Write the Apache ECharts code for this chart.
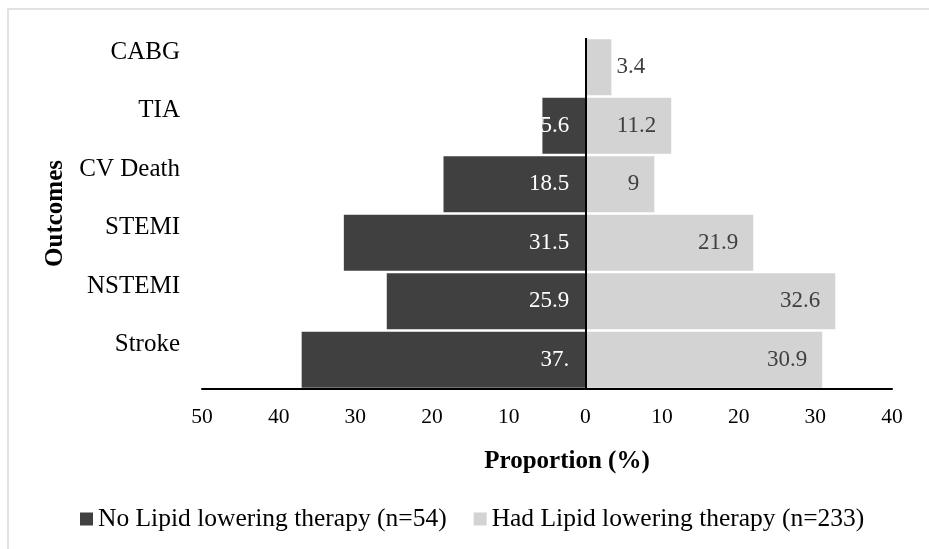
<!DOCTYPE html>
<html>
<head>
<meta charset="utf-8">
<script src="https://cdn.jsdelivr.net/npm/echarts@6/dist/echarts.min.js"></script>
<style>
  html, body { margin: 0; padding: 0; background: #fff; }
  #chart { width: 929px; height: 549px; }
</style>
</head>
<body>
<div id="chart"></div>
<script>
// Outcome categories, listed bottom to top
const outcomes = ['Stroke', 'NSTEMI', 'STEMI', 'CV Death', 'TIA', 'CABG'];
// Proportions (%) per group
const noTherapy = [37.0, 25.9, 31.5, 18.5, 5.6, null];
const noTherapyLabels = ['37.', '25.9', '31.5', '18.5', '5.6', ''];
const hadTherapy = [30.9, 32.6, 21.9, 9, 11.2, 3.4];
// Axis tick values
const xTicks = [-50, -40, -30, -20, -10, 0, 10, 20, 30, 40];

const serif = '"Liberation Serif", "Times New Roman", serif';
const DARK = '#404040';
const LIGHT = '#d3d3d3';

const chart = echarts.init(document.getElementById('chart'), null, { renderer: 'canvas' });

chart.setOption({
  backgroundColor: '#fff',
  animation: false,
  textStyle: { fontFamily: serif },
  graphic: [{
    type: 'rect',
    shape: { x: 8, y: 9, width: 1000, height: 1000 },
    style: { fill: 'none', stroke: '#d9d9d9', lineWidth: 1.5 },
    silent: true
  }],
  grid: { left: 202, right: 37, top: 38, bottom: 160, containLabel: false },
  legend: {
    left: 80,
    top: 506,
    padding: 0,
    icon: 'rect',
    itemWidth: 13,
    itemHeight: 13,
    itemGap: 27,
    textStyle: { fontFamily: serif, fontSize: 25.5, color: '#000' },
    data: ['No Lipid lowering therapy (n=54)', 'Had Lipid lowering therapy (n=233)']
  },
  xAxis: {
    type: 'value',
    min: xTicks[0],
    max: xTicks[xTicks.length - 1],
    interval: 10,
    name: 'Proportion (%)',
    nameLocation: 'middle',
    nameGap: 60,
    nameTextStyle: { fontFamily: serif, fontSize: 25, fontWeight: 'bold', color: '#000', padding: [0, 0, 0, 40] },
    axisLine: { show: true, onZero: false, lineStyle: { color: '#000', width: 2 } },
    axisTick: { show: false },
    splitLine: { show: false },
    axisLabel: {
      fontFamily: serif, fontSize: 21.5, color: '#000', margin: 17,
      formatter: v => String(Math.abs(v))
    }
  },
  yAxis: {
    type: 'category',
    data: outcomes,
    name: 'Outcomes',
    nameLocation: 'middle',
    nameGap: 133,
    nameRotate: 90,
    nameTextStyle: { fontFamily: serif, fontSize: 25, fontWeight: 'bold', color: '#000' },
    axisLine: { show: false },
    axisTick: { show: false },
    splitLine: { show: false },
    axisLabel: {
      fontFamily: serif, fontSize: 25, color: '#000', margin: 22,
      verticalAlign: 'bottom',
      lineHeight: 30
    }
  },
  series: [
    {
      name: 'No Lipid lowering therapy (n=54)',
      type: 'bar',
      stack: 'total',
      barCategoryGap: '4%',
      itemStyle: { color: DARK },
      data: noTherapy.map(v => (v === null ? null : -v)),
      label: {
        show: true,
        position: 'insideRight',
        distance: 16,
        fontFamily: serif,
        fontSize: 23,
        color: '#fff',
        formatter: p => noTherapyLabels[p.dataIndex]
      },
      markLine: {
        silent: true,
        symbol: 'none',
        label: { show: false },
        lineStyle: { color: '#000', width: 2, type: 'solid' },
        data: [{ xAxis: 0 }]
      }
    },
    {
      name: 'Had Lipid lowering therapy (n=233)',
      type: 'bar',
      stack: 'total',
      barCategoryGap: '4%',
      itemStyle: { color: LIGHT },
      data: hadTherapy.map((v, i) => (
        outcomes[i] === 'CABG'
          ? { value: v, label: { position: 'right', distance: 5 } }
          : v
      )),
      label: {
        show: true,
        position: 'insideRight',
        distance: 15,
        fontFamily: serif,
        fontSize: 23,
        color: '#404040',
        formatter: p => String(p.value)
      }
    }
  ]
});
</script>
</body>
</html>
